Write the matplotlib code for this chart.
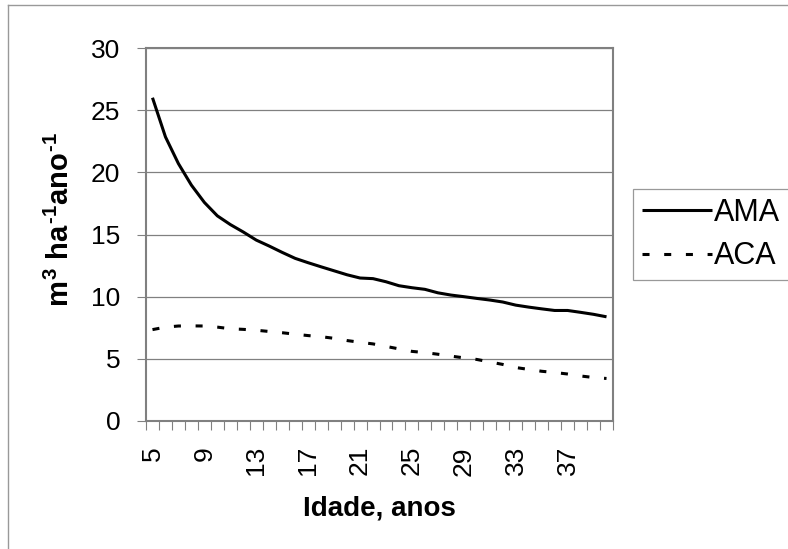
import matplotlib
matplotlib.use("Agg")
import matplotlib.pyplot as plt
from matplotlib.lines import Line2D
import numpy as np

plt.rcParams["font.family"] = ["Liberation Sans", "DejaVu Sans"]
# mathtext só é usado no rótulo do eixo y (negrito)
plt.rcParams["mathtext.fontset"] = "custom"
plt.rcParams["mathtext.rm"] = "Liberation Sans:bold"
plt.rcParams["mathtext.it"] = "Liberation Sans:bold"
plt.rcParams["mathtext.bf"] = "Liberation Sans:bold"

# idade (anos) e incrementos em m3/ha/ano
idade = list(range(5, 41))
ama = [26.0, 22.85, 20.7, 18.97, 17.58, 16.5, 15.8, 15.2, 14.55, 14.07,
       13.56, 13.08, 12.73, 12.4, 12.08, 11.76, 11.5, 11.45, 11.2, 10.88,
       10.72, 10.59, 10.31, 10.13, 10.0, 9.86, 9.73, 9.57, 9.32, 9.16,
       9.02, 8.89, 8.89, 8.74, 8.58, 8.38]
aca = [7.35, 7.55, 7.64, 7.65, 7.64, 7.55, 7.42, 7.37, 7.3, 7.2,
       7.1, 6.98, 6.87, 6.78, 6.65, 6.47, 6.33, 6.2, 6.0, 5.8,
       5.6, 5.5, 5.37, 5.22, 5.08, 4.95, 4.75, 4.55, 4.3, 4.15,
       4.0, 3.9, 3.78, 3.62, 3.5, 3.42]
yticks = [0, 5, 10, 15, 20, 25, 30]

W, H = 788, 549
GRAY = "#808080"

fig = plt.figure(figsize=(W / 100, H / 100), dpi=100)
ax = fig.add_axes([146 / W, (H - 421) / H, 467 / W, 373 / H])

x = np.arange(len(idade))
l_ama, = ax.plot(x, ama, color="black", linewidth=2.2, solid_capstyle="butt")
l_aca, = ax.plot(x, aca, color="black", linewidth=2.2, dashes=(2.3, 4.8),
                 dash_capstyle="butt")

ax.set_xlim(-0.5, len(idade) - 0.5)
ax.set_ylim(0, 30)
ax.set_yticks(yticks)
ax.yaxis.grid(True, color=GRAY, linewidth=0.9)
ax.set_axisbelow(True)

# rótulos a cada 4 anos, marcas entre categorias
ax.set_xticks(x[::4])
ax.set_xticklabels([str(v) for v in idade[::4]], rotation=90)
ax.set_xticks(np.arange(len(idade) + 1) - 0.5, minor=True)
ax.tick_params(axis="x", which="major", length=0, pad=18, labelsize=19)
ax.tick_params(axis="x", which="minor", length=6.5, width=0.8, color=GRAY,
               direction="out")
ax.tick_params(axis="y", length=6.5, width=0.8, color=GRAY, pad=12,
               labelsize=19)

for s in ax.spines.values():
    s.set_color(GRAY)
    s.set_linewidth(1.5)

ax.set_xlabel("Idade, anos", fontsize=20, fontweight="bold")
ax.xaxis.set_label_coords(0.5, (421 - 496) / 373)
ax.set_ylabel(r"$m^3\ ha^{\text{-}1}ano^{\text{-}1}$", fontsize=21)
ax.yaxis.set_label_coords((75 - 146) / 467, (421 - 220) / 373)

leg = fig.legend([l_ama, l_aca], ["AMA", "ACA"], loc="upper left",
                 bbox_to_anchor=(633 / W, 1 - 189 / H), fontsize=22,
                 frameon=True, fancybox=False, edgecolor=GRAY,
                 handlelength=2.3, handletextpad=0.08, borderpad=0.28,
                 labelspacing=0.45, borderaxespad=0)
leg.get_frame().set_linewidth(0.9)

# moldura externa
fig.add_artist(Line2D([8 / W, 1], [1 - 5 / H, 1 - 5 / H], color="#999999",
                      linewidth=1, transform=fig.transFigure))
fig.add_artist(Line2D([8 / W, 8 / W], [0, 1 - 5 / H], color="#999999",
                      linewidth=1, transform=fig.transFigure))

fig.savefig("out.png", dpi=100)
